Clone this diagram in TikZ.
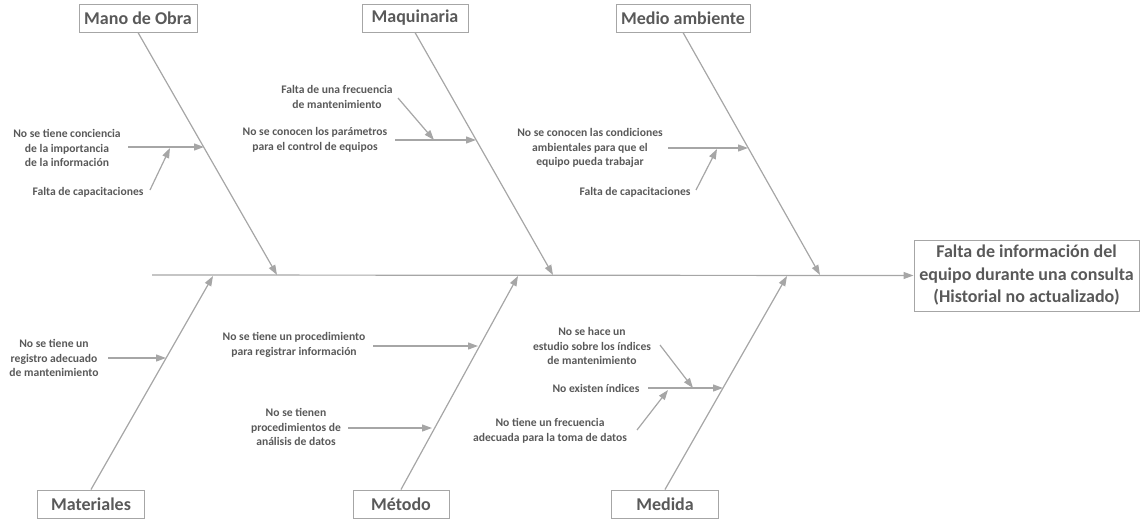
\documentclass[tikz,border=0pt]{standalone}
\usepackage{fontspec}
\setmainfont{Carlito}
\usetikzlibrary{arrows.meta}
\definecolor{ln}{HTML}{A6A6A6}
\definecolor{tx}{HTML}{595959}
\begin{document}
\begin{tikzpicture}[x=1pt,y=-1pt,
  cat/.style={draw=ln, line width=1pt, text=tx, font=\fontsize{18}{21}\selectfont\bfseries, minimum height=28pt, inner sep=0pt},
  eff/.style={draw=ln, line width=1pt, text=tx, font=\fontsize{18}{22.5}\selectfont\bfseries, align=center, minimum width=225pt, minimum height=71pt, inner sep=0pt},
  lbl/.style={text=tx, font=\fontsize{11.6}{14.8}\selectfont\bfseries, align=center, inner sep=0pt},
  bone/.style={draw=ln, line width=1.2pt},
  arr/.style={draw=ln, line width=1.2pt, -{Triangle[length=10pt,width=7pt]}}]
\useasboundingbox (0,0) rectangle (1146,522);

% category boxes
\node[cat, minimum width=118pt] (mo) at (138,18) {Mano de Obra};
\node[cat, minimum width=106pt] (maq) at (415,18) {Maquinaria};
\node[cat, minimum width=134pt] (ma) at (683,18) {Medio ambiente};
\node[cat, minimum width=107pt] (mat) at (91,504) {Materiales};
\node[cat, minimum width=96pt] (met) at (401,504) {Método};
\node[cat, minimum width=107pt] (med) at (665,504) {Medida};

% effect
\node[eff] (ef) at (1026.5,275.5) {Falta de información del\\equipo durante una consulta\\(Historial no actualizado)};

% spine
\coordinate (s0) at (152,275);
\draw[arr] (s0) -- (ef.west);

% bone tips on spine
\coordinate (tmo) at (277,275);
\coordinate (tmaq) at (553,275);
\coordinate (tma) at (820,275);
\coordinate (tmat) at (213,276);
\coordinate (tmet) at (518,276);
\coordinate (tmed) at (787,276);
\draw[arr] (mo.south) -- (tmo);
\draw[arr] (maq.south) -- (tmaq);
\draw[arr] (ma.south) -- (tma);
\draw[arr] (mat.north) -- (tmat);
\draw[arr] (met.north) -- (tmet);
\draw[arr] (med.north) -- (tmed);

% Mano de Obra causes
\node[lbl] (c1) at (67,148) {No se tiene conciencia\\de la importancia\\de la información};
\coordinate (c1s) at (128,147);
\coordinate (c1t) at (204,147);
\draw[arr] (c1s) -- (c1t);
\node[lbl] (c2) at (88,192) {Falta de capacitaciones};
\coordinate (c2s) at (150,190);
\coordinate (c2t) at (170,148);
\draw[arr] (c2s) -- (c2t);

% Maquinaria causes
\node[lbl] (c3) at (337,97) {Falta de una frecuencia\\de mantenimiento};
\coordinate (c3s) at (398,98);
\coordinate (c3t) at (434,140);
\draw[arr] (c3s) -- (c3t);
\node[lbl] (c4) at (315,140) {No se conocen los parámetros\\para el control de equipos};
\coordinate (c4s) at (395,140);
\coordinate (c4t) at (476,140);
\draw[arr] (c4s) -- (c4t);

% Medio ambiente causes
\node[lbl] (c5) at (590,148) {No se conocen las condiciones\\ambientales para que el\\equipo pueda trabajar};
\coordinate (c5s) at (668,148);
\coordinate (c5t) at (748,148);
\draw[arr] (c5s) -- (c5t);
\node[lbl] (c6) at (635,192) {Falta de capacitaciones};
\coordinate (c6s) at (696,190);
\coordinate (c6t) at (717,149);
\draw[arr] (c6s) -- (c6t);

% Materiales causes
\node[lbl] (c7) at (54,358) {No se tiene un\\registro adecuado\\de mantenimiento};
\coordinate (c7s) at (108,358);
\coordinate (c7t) at (166,358);
\draw[arr] (c7s) -- (c7t);

% Método causes
\node[lbl] (c8) at (294,345) {No se tiene un procedimiento\\para registrar información};
\coordinate (c8s) at (373,346);
\coordinate (c8t) at (478,346);
\draw[arr] (c8s) -- (c8t);
\node[lbl] (c9) at (296,427) {No se tienen\\procedimientos de\\análisis de datos};
\coordinate (c9s) at (348,428);
\coordinate (c9t) at (432,428);
\draw[arr] (c9s) -- (c9t);

% Medida causes
\node[lbl] (c10) at (592,346) {No se hace un\\estudio sobre los índices\\de mantenimiento};
\coordinate (c10s) at (660,345);
\coordinate (c10t) at (693,388);
\draw[arr] (c10s) -- (c10t);
\node[lbl] (c11) at (596,388) {No existen índices};
\coordinate (c11s) at (648,388);
\coordinate (c11t) at (723,388);
\draw[arr] (c11s) -- (c11t);
\node[lbl] (c12) at (550,431) {No tiene un frecuencia\\adecuada para la toma de datos};
\coordinate (c12s) at (637,430);
\coordinate (c12t) at (668,390);
\draw[arr] (c12s) -- (c12t);
\end{tikzpicture}
\end{document}
